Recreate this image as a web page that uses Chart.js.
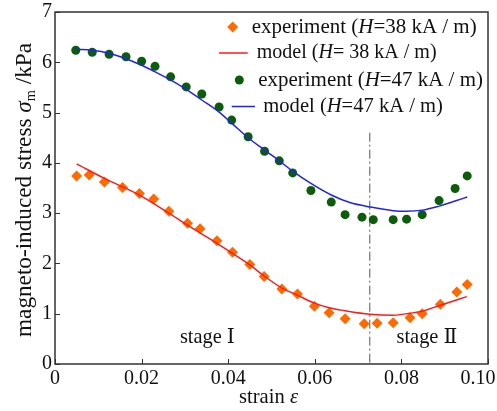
<!DOCTYPE html>
<html>
<head>
<meta charset="utf-8">
<script src="https://cdn.jsdelivr.net/npm/chart.js@4.4.1/dist/chart.umd.min.js"></script>
<style>
html,body{margin:0;padding:0;background:#fff;}
#wrap{width:497px;height:411px;}
</style>
</head>
<body>
<div id="wrap"><canvas id="c" width="497" height="411"></canvas></div>
<script>
// ---- data ----
const expStrain38 = [0.0050,0.0079,0.0114,0.0156,0.0195,0.0228,0.0263,0.0306,0.0335,0.0374,0.0410,0.0450,0.0483,0.0524,0.0560,0.0599,0.0633,0.0670,0.0714,0.0744,0.0781,0.0820,0.0848,0.0890,0.0928,0.0952];
const expStress38 = [3.74,3.76,3.62,3.51,3.39,3.28,3.04,2.80,2.69,2.45,2.22,1.98,1.74,1.49,1.39,1.15,1.02,0.90,0.80,0.81,0.82,0.92,1.00,1.19,1.43,1.58];
const modelStrain38 = [0.0050,0.0114,0.0195,0.0263,0.0306,0.0374,0.0410,0.0450,0.0483,0.0524,0.0560,0.0599,0.0633,0.0670,0.0727,0.0781,0.0820,0.0848,0.0890,0.0951];
const modelStress38 = [3.98,3.69,3.36,3.00,2.76,2.40,2.20,1.97,1.75,1.51,1.37,1.21,1.12,1.06,0.99,0.97,1.01,1.05,1.17,1.34];
const expStrain47 = [0.0048,0.0086,0.0125,0.0164,0.0200,0.0231,0.0267,0.0303,0.0339,0.0379,0.0408,0.0446,0.0484,0.0518,0.0549,0.0591,0.0638,0.0670,0.0709,0.0735,0.0781,0.0812,0.0848,0.0887,0.0924,0.0952];
const expStress47 = [6.24,6.20,6.16,6.11,6.02,5.92,5.71,5.51,5.37,5.11,4.85,4.52,4.23,4.04,3.80,3.45,3.22,2.97,2.92,2.87,2.87,2.88,2.97,3.25,3.49,3.74];
const modelStrain47 = [0.0048,0.0086,0.0125,0.0164,0.0200,0.0231,0.0267,0.0303,0.0339,0.0379,0.0408,0.0446,0.0483,0.0518,0.0548,0.0591,0.0638,0.0681,0.0729,0.0781,0.0812,0.0848,0.0887,0.0924,0.0952];
const modelStress47 = [6.26,6.24,6.18,6.07,5.94,5.81,5.65,5.46,5.25,5.01,4.79,4.50,4.26,4.04,3.84,3.59,3.36,3.21,3.12,3.05,3.04,3.06,3.14,3.24,3.32];
const xTickValues = [0,0.02,0.04,0.06,0.08,0.10];
const xTickLabels = ['0','0.02','0.04','0.06','0.08','0.10'];
const yTickValues = [0,1,2,3,4,5,6,7];
const yTickLabels = ['0','1','2','3','4','5','6','7'];
const stageBoundary = 0.0727;     // strain of the dash-dot divider
const stageBoundaryTop = 4.6;     // stress where the divider ends
const stageLabels = ['stage \u2160', 'stage \u2161'];
const stageLabelStrain = [0.0352, 0.0859];
const stageLabelStress = [0.52, 0.52];

const FAM = "'Liberation Serif','Times New Roman',Tinos,'Noto Serif','DejaVu Serif',serif";
const pts = (xs, ys) => xs.map((x, i) => ({x, y: ys[i]}));

function buildSegs(ctx, parts, size){
  return parts.map(([t,k]) => {
    const s = k === 'sub' ? size*0.62 : size;
    const font = (k === 'i' ? 'italic ' : '') + s + 'px ' + FAM;
    ctx.font = font;
    return {t, k, font, w: ctx.measureText(t).width};
  });
}
function drawRich(ctx, parts, x, y, targetW, baseSize, align){
  let size = baseSize;
  if (targetW){
    const w0 = buildSegs(ctx, parts, baseSize).reduce((a,s)=>a+s.w,0);
    size = baseSize*targetW/w0;
  }
  const ss = buildSegs(ctx, parts, size);
  const W = ss.reduce((a,s)=>a+s.w,0);
  let cx = align === 'center' ? x - W/2 : x;
  ctx.textBaseline = 'middle';
  ctx.textAlign = 'left';
  for (const s of ss){
    ctx.font = s.font;
    ctx.fillText(s.t, cx, s.k === 'sub' ? y + size*0.28 : y);
    cx += s.w;
  }
}

const overlay = {
  id: 'overlay',
  beforeDatasetsDraw(chart){
    const {ctx, scales:{x, y}} = chart;
    ctx.save();
    ctx.strokeStyle = '#555';
    ctx.lineWidth = 1;
    ctx.setLineDash([9,3,2,3]);
    const px = x.getPixelForValue(stageBoundary);
    ctx.beginPath();
    ctx.moveTo(px, y.getPixelForValue(stageBoundaryTop));
    ctx.lineTo(px, y.getPixelForValue(0));
    ctx.stroke();
    ctx.restore();
  },
  afterDraw(chart){
    const {ctx, chartArea:a, scales:{x, y}} = chart;
    ctx.save();
    // frame
    ctx.strokeStyle = '#333';
    ctx.lineWidth = 1.5;
    ctx.strokeRect(a.left, a.top, a.right - a.left, a.bottom - a.top);
    // inward ticks
    ctx.lineWidth = 1;
    ctx.beginPath();
    xTickValues.forEach(v => { const p = Math.round(x.getPixelForValue(v))+0.5; ctx.moveTo(p, a.bottom); ctx.lineTo(p, a.bottom - 5); });
    yTickValues.forEach(v => { const p = Math.round(y.getPixelForValue(v))+0.5; ctx.moveTo(a.left, p); ctx.lineTo(a.left + 5, p); });
    ctx.stroke();

    ctx.fillStyle = '#111';
    // y title
    ctx.save();
    ctx.translate(25, 190);
    ctx.rotate(-Math.PI/2);
    drawRich(ctx, [['magneto-induced stress ','n'],['\u03c3','i'],['m','sub'],[' /kPa','n']], 0, 0, 294, 20, 'center');
    ctx.restore();
    // x title
    drawRich(ctx, [['strain ','n'],['\u03b5','i']], 268.5, 398, 59, 20, 'center');
    // stage labels
    stageLabels.forEach((t, i) => {
      drawRich(ctx, [[t,'n']], x.getPixelForValue(stageLabelStrain[i]), y.getPixelForValue(stageLabelStress[i]), i === 0 ? 55 : 61, 20, 'center');
    });

    // legend
    const rows = [
      {yy: 27, mk: 'diamond', mx: 232.7, tx: 251.7, tw: 225, parts: [['experiment (','n'],['H','i'],['=38 kA / m)','n']]},
      {yy: 53, mk: 'redline', mx: 219, mx2: 247.7, tx: 256.7, tw: 180, parts: [['model (','n'],['H','i'],['= 38 kA / m)','n']]},
      {yy: 80, mk: 'dot', mx: 239.3, tx: 258.3, tw: 224.7, parts: [['experiment (','n'],['H','i'],['=47 kA / m)','n']]},
      {yy: 106.5, mk: 'blueline', mx: 231.7, mx2: 255, tx: 263.3, tw: 179.7, parts: [['model (','n'],['H','i'],['=47 kA / m)','n']]}
    ];
    rows.forEach(r => {
      if (r.mk === 'diamond'){
        ctx.fillStyle = '#FF6A00';
        ctx.beginPath();
        ctx.moveTo(r.mx, r.yy-5.5); ctx.lineTo(r.mx+5.5, r.yy); ctx.lineTo(r.mx, r.yy+5.5); ctx.lineTo(r.mx-5.5, r.yy); ctx.closePath(); ctx.fill();
      } else if (r.mk === 'dot'){
        ctx.fillStyle = '#0B5D0B';
        ctx.beginPath(); ctx.arc(r.mx, r.yy, 4.5, 0, Math.PI*2); ctx.fill();
      } else {
        ctx.strokeStyle = r.mk === 'redline' ? '#FF1A1A' : '#2222EE';
        ctx.lineWidth = 1.5;
        ctx.beginPath(); ctx.moveTo(r.mx, r.yy); ctx.lineTo(r.mx2, r.yy); ctx.stroke();
      }
      ctx.fillStyle = '#111';
      drawRich(ctx, r.parts, r.tx, r.yy, r.tw, 20, 'left');
    });
    ctx.restore();
  }
};

new Chart(document.getElementById('c'), {
  type: 'scatter',
  data: {
    datasets: [
      {label: 'model (H=38 kA/m)', data: pts(modelStrain38, modelStress38), showLine: true, pointRadius: 0,
       borderColor: '#FF1A1A', borderWidth: 1.5, cubicInterpolationMode: 'monotone', fill: false},
      {label: 'model (H=47 kA/m)', data: pts(modelStrain47, modelStress47), showLine: true, pointRadius: 0,
       borderColor: '#2222EE', borderWidth: 1.5, cubicInterpolationMode: 'monotone', fill: false},
      {label: 'experiment (H=38 kA/m)', data: pts(expStrain38, expStress38), pointStyle: 'rectRot', pointRadius: 5.5,
       backgroundColor: '#FF6A00', borderWidth: 0},
      {label: 'experiment (H=47 kA/m)', data: pts(expStrain47, expStress47), pointStyle: 'circle', pointRadius: 4.5,
       backgroundColor: '#0B5D0B', borderWidth: 0}
    ]
  },
  options: {
    responsive: false,
    devicePixelRatio: 1,
    animation: false,
    layout: {padding: {left: 0, right: 9, top: 12, bottom: 0}},
    plugins: {legend: {display: false}, tooltip: {enabled: false}},
    scales: {
      x: {
        type: 'linear', min: 0, max: 0.1,
        afterBuildTicks: s => { s.ticks = xTickValues.map(v => ({value: v})); },
        afterFit: s => { s.height = 47; s.paddingLeft = 0; s.paddingRight = 0; },
        grid: {display: true, drawOnChartArea: false, drawTicks: false},
        border: {display: false},
        ticks: {
          font: {family: FAM, size: 20}, color: '#111', padding: 3, maxRotation: 0, autoSkip: false,
          callback: (v, i) => i === xTickLabels.length - 1 ? xTickLabels[i] + '\u2002\u2002' : xTickLabels[i]
        }
      },
      y: {
        type: 'linear', min: 0, max: 7,
        afterBuildTicks: s => { s.ticks = yTickValues.map(v => ({value: v})); },
        afterFit: s => { s.width = 55; s.paddingTop = 0; s.paddingBottom = 0; },
        grid: {display: true, drawOnChartArea: false, drawTicks: false},
        border: {display: false},
        ticks: {font: {family: FAM, size: 20}, color: '#111', padding: 3, autoSkip: false,
          callback: (v, i) => yTickLabels[i]}
      }
    }
  },
  plugins: [overlay]
});
</script>
</body>
</html>
